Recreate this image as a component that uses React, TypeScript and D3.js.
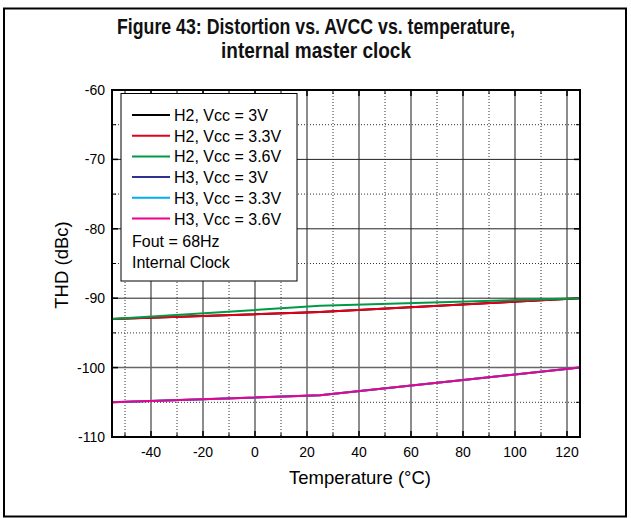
import React from "react";
import * as d3 from "d3";

const temps = [-55, 25, 125];
const h2v30 = [-93, -92, -90];
const h2v33 = [-93, -92, -90];
const h2v36 = [-93, -91.1, -90];
const h3v30 = [-105, -104, -100];
const h3v33 = [-105, -104, -100];
const h3v36 = [-105, -104, -100];

const seriesNames = [
  "H2, Vcc = 3V",
  "H2, Vcc = 3.3V",
  "H2, Vcc = 3.6V",
  "H3, Vcc = 3V",
  "H3, Vcc = 3.3V",
  "H3, Vcc = 3.6V",
];
const seriesColors = ["#000000", "#e2001a", "#009a46", "#2e3192", "#00aeef", "#ec008c"];
const seriesValues = [h2v30, h2v33, h2v36, h3v30, h3v33, h3v36];

const xMajorTicks = [-40, -20, 0, 20, 40, 60, 80, 100, 120];
const xMinorTicks = [-50, -30, -10, 10, 30, 50, 70, 90, 110];
const yMajorTicks = [-60, -70, -80, -90, -100, -110];
const yMinorTicks = [-65, -75, -85, -95, -105];
const legendNotes = ["Fout = 68Hz", "Internal Clock"];

const W = 631;
const H = 518;
const L = 112, R = 580, T = 90, B = 437;

export default function App() {
  const x = d3.scaleLinear().domain([-55, 125]).range([L, R]);
  const y = d3.scaleLinear().domain([-110, -60]).range([B, T]);
  const line = d3
    .line<[number, number]>()
    .x((d) => x(d[0]))
    .y((d) => y(d[1]));
  const font = "Liberation Sans, Arial, sans-serif";

  return (
    <svg width={W} height={H} style={{ position: "absolute", left: 0, top: 0 }} fontFamily={font}>
      <rect x={0} y={0} width={W} height={H} fill="#fff" />
      <rect x={4} y={8.5} width={622} height={508} fill="none" stroke="#000" strokeWidth={2} />
      <text x={316} y={34} textAnchor="middle" fontSize={22} fontWeight="bold" fill="#111" textLength={398} lengthAdjust="spacingAndGlyphs">
        Figure 43: Distortion vs. AVCC vs. temperature,
      </text>
      <text x={316} y={58} textAnchor="middle" fontSize={22} fontWeight="bold" fill="#111" textLength={190} lengthAdjust="spacingAndGlyphs">
        internal master clock
      </text>

      {/* minor grid */}
      {xMinorTicks.map((t) => (
        <line key={"xm" + t} x1={x(t)} x2={x(t)} y1={T} y2={B} stroke="#333" strokeWidth={1} strokeDasharray="1,2" />
      ))}
      {yMinorTicks.map((t) => (
        <line key={"ym" + t} x1={L} x2={R} y1={y(t)} y2={y(t)} stroke="#333" strokeWidth={1} strokeDasharray="1,2" />
      ))}
      {/* major grid */}
      {xMajorTicks.map((t) => (
        <line key={"xM" + t} x1={x(t)} x2={x(t)} y1={T} y2={B} stroke="#666" strokeWidth={1.5} />
      ))}
      {yMajorTicks.filter((t) => t !== -60 && t !== -110).map((t) => (
        <line key={"yM" + t} x1={L} x2={R} y1={y(t)} y2={y(t)} stroke={t === -100 ? "#666" : "#222"} strokeWidth={t === -100 ? 1.5 : 1} />
      ))}

      {/* ticks */}
      {xMajorTicks.map((t) => (
        <g key={"xt" + t}>
          <line x1={x(t)} x2={x(t)} y1={B} y2={B - 6} stroke="#000" strokeWidth={1.5} />
          <line x1={x(t)} x2={x(t)} y1={T} y2={T + 6} stroke="#000" strokeWidth={1.5} />
        </g>
      ))}
      {xMinorTicks.map((t) => (
        <g key={"xtm" + t}>
          <line x1={x(t)} x2={x(t)} y1={B} y2={B - 4} stroke="#000" strokeWidth={1} />
          <line x1={x(t)} x2={x(t)} y1={T} y2={T + 4} stroke="#000" strokeWidth={1} />
        </g>
      ))}
      {yMajorTicks.map((t) => (
        <g key={"yt" + t}>
          <line x1={L} x2={L + 6} y1={y(t)} y2={y(t)} stroke="#000" strokeWidth={1.5} />
          <line x1={R} x2={R - 6} y1={y(t)} y2={y(t)} stroke="#000" strokeWidth={1.5} />
        </g>
      ))}
      {yMinorTicks.map((t) => (
        <g key={"ytm" + t}>
          <line x1={L} x2={L + 4} y1={y(t)} y2={y(t)} stroke="#000" strokeWidth={1} />
          <line x1={R} x2={R - 4} y1={y(t)} y2={y(t)} stroke="#000" strokeWidth={1} />
        </g>
      ))}

      {/* data */}
      {seriesValues.map((vals, i) => (
        <path
          key={"s" + i}
          d={line(temps.map((t, j) => [t, vals[j]] as [number, number])) || ""}
          fill="none"
          stroke={seriesColors[i]}
          strokeWidth={2}
        />
      ))}

      {/* frame */}
      <rect x={L} y={T} width={R - L} height={B - T} fill="none" stroke="#000" strokeWidth={2} />

      {/* tick labels */}
      {xMajorTicks.map((t) => (
        <text key={"xl" + t} x={x(t)} y={457} textAnchor="middle" fontSize={14} fill="#000">
          {t}
        </text>
      ))}
      {yMajorTicks.map((t) => (
        <text key={"yl" + t} x={105} y={y(t) + 5} textAnchor="end" fontSize={14} fill="#000">
          {t}
        </text>
      ))}

      <text x={360} y={484} textAnchor="middle" fontSize={18.5} fill="#000">
        Temperature (°C)
      </text>
      <text transform={`translate(68,265) rotate(-90)`} textAnchor="middle" fontSize={18.5} fill="#000">
        THD (dBc)
      </text>

      {/* legend */}
      <rect x={121} y={93.5} width={176} height={187.5} fill="#fff" stroke="#000" strokeWidth={1} />
      {seriesNames.map((name, i) => {
        const cy = 115 + i * 20.7;
        return (
          <g key={"lg" + i}>
            <line x1={132} x2={170} y1={cy} y2={cy} stroke={seriesColors[i]} strokeWidth={2} />
            <text x={174} y={cy + 6} fontSize={16} fill="#000">
              {name}
            </text>
          </g>
        );
      })}
      {legendNotes.map((n, i) => (
        <text key={"ln" + i} x={132} y={247 + i * 20.7} fontSize={16} fill="#000">
          {n}
        </text>
      ))}
    </svg>
  );
}
